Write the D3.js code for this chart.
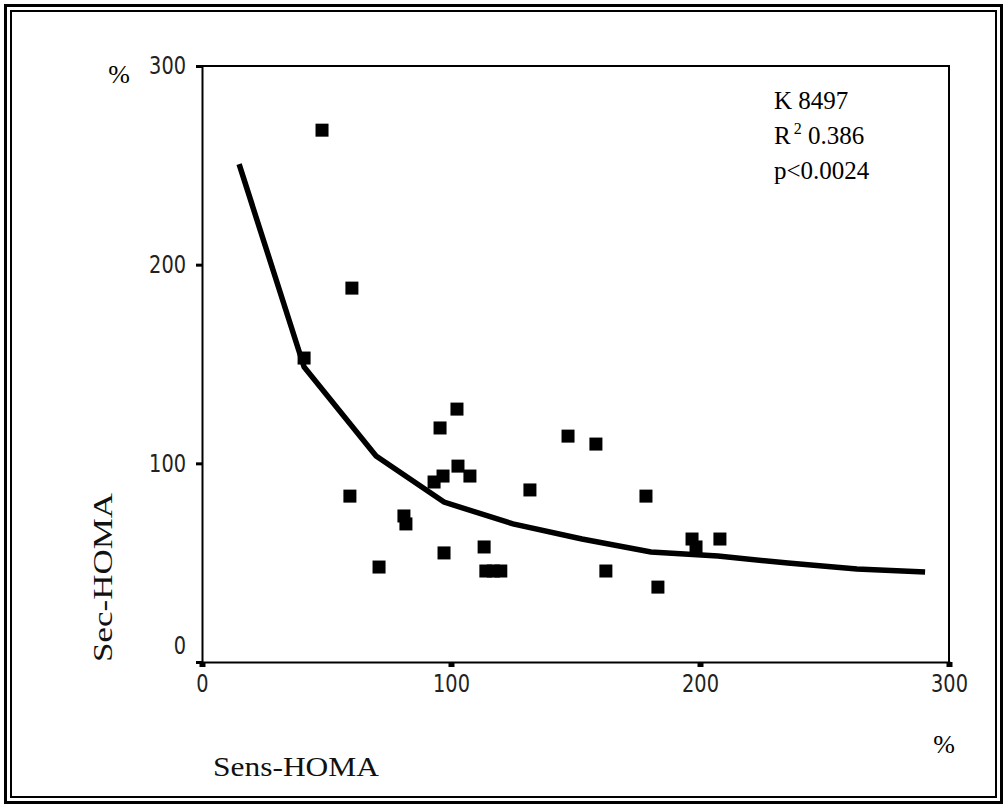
<!DOCTYPE html>
<html><head><meta charset="utf-8">
<script src="https://cdn.jsdelivr.net/npm/d3@7"></script>
<style>body{margin:0;background:#fff}</style>
</head><body>
<svg id="c" width="1008" height="809"></svg>
<script>
const sensX = [48.2, 60.2, 41, 102.4, 95.6, 102.8, 96.8, 93.2, 107.6, 131.7, 59.4, 81.1, 81.9, 97.2, 113.3, 71.1, 114, 117, 120, 147, 158.2, 178.3, 196.8, 198.4, 208, 162.2, 183.1];
const secY  = [267.7, 188.2, 153, 127.3, 117.8, 98.6, 93.6, 90.6, 93.6, 86.6, 83.5, 73.5, 69.5, 54.9, 57.9, 47.8, 45.8, 45.8, 45.8, 113.7, 109.7, 83.5, 61.9, 57.9, 61.9, 45.8, 37.7];
const fitX = [14.9, 41, 69.9, 97.2, 124.9, 152.6, 180.3, 207.2, 235.3, 263, 290.4];
const fitY = [250.6, 148.5, 103.7, 80.5, 69.5, 61.9, 55.4, 53.3, 49.8, 46.8, 45.3];
const xTicks = [0, 100, 200, 300];
const yTicks = [0, 100, 200, 300];
const statLines = ["K 8497", "R", "p<0.0024"];

const svg = d3.select("#c");
// double frame
svg.append("rect").attr("x",5.5).attr("y",5.5).attr("width",996).attr("height",797)
  .attr("fill","none").attr("stroke","#000").attr("stroke-width",3);
svg.append("rect").attr("x",11).attr("y",11).attr("width",985).attr("height",786)
  .attr("fill","none").attr("stroke","#000").attr("stroke-width",2);

const x = d3.scaleLinear().domain([0,300]).range([202,949]);
const y = d3.scaleLinear().domain([0,300]).range([662,66]);

const tickFont = "'DejaVu Sans',sans-serif";

// plot box top/right
svg.append("path").attr("d",`M${x(0)},${y(300)}H${x(300)}V${y(0)}`)
  .attr("fill","none").attr("stroke","#000").attr("stroke-width",2);

function styleTicks(sel){
  sel.attr("font-family",tickFont).attr("font-size",24).attr("fill","#222")
    .attr("textLength", function(){ return 12.3 * this.textContent.length; })
    .attr("lengthAdjust","spacingAndGlyphs");
}

const gx = svg.append("g").attr("transform",`translate(0,${y(0)})`)
  .call(d3.axisBottom(x).tickValues(xTicks).tickSize(5).tickPadding(8).tickFormat(d3.format("d")));
gx.select(".domain").attr("stroke-width",2);
gx.selectAll(".tick line").attr("stroke-width",6);
styleTicks(gx.selectAll(".tick text"));

const gy = svg.append("g").attr("transform",`translate(${x(0)},0)`)
  .call(d3.axisLeft(y).tickValues(yTicks).tickSize(6).tickPadding(10).tickFormat(d3.format("d")));
gy.select(".domain").attr("stroke-width",2);
gy.selectAll(".tick line").attr("stroke-width",3);
styleTicks(gy.selectAll(".tick text"));
gy.selectAll(".tick text").attr("dy", d => d === 0 ? "-0.35em" : "0.32em");

// fit curve
svg.append("path").datum(fitX.map((v,i)=>[v,fitY[i]]))
  .attr("d", d3.line().x(d=>x(d[0])).y(d=>y(d[1])))
  .attr("fill","none").attr("stroke","#000").attr("stroke-width",5.5).attr("stroke-linejoin","miter");

// points
const s = 13;
svg.append("g").selectAll("rect").data(sensX.map((v,i)=>[v,secY[i]])).join("rect")
  .attr("x",d=>x(d[0])-s/2).attr("y",d=>y(d[1])-s/2).attr("width",s).attr("height",s).attr("fill","#000");

const serif = "'Liberation Serif','Times New Roman',serif";
// stats
svg.append("text").attr("x",774).attr("y",109).attr("font-family",serif).attr("font-size",25).text(statLines[0]);
const r = svg.append("text").attr("x",774).attr("y",144).attr("font-family",serif).attr("font-size",25);
r.append("tspan").text(statLines[1]);
r.append("tspan").attr("font-size",16).attr("dy",-10).attr("dx",3).text("2");
r.append("tspan").attr("dy",10).text(" 0.386");
svg.append("text").attr("x",774).attr("y",179).attr("font-family",serif).attr("font-size",25).text(statLines[2]);

// percent labels
svg.append("text").attr("x",119).attr("y",83).attr("text-anchor","middle").attr("font-family",serif).attr("font-size",26).text("%");
svg.append("text").attr("x",944).attr("y",753).attr("text-anchor","middle").attr("font-family",serif).attr("font-size",26).text("%");

// axis titles
svg.append("text").attr("x",213).attr("y",776).attr("font-family",serif).attr("font-size",28)
  .attr("textLength",166).attr("lengthAdjust","spacingAndGlyphs").attr("fill","#111").text("Sens-HOMA");
svg.append("text").attr("transform","translate(112,662) rotate(-90)").attr("font-family",serif).attr("font-size",28)
  .attr("textLength",169).attr("lengthAdjust","spacingAndGlyphs").attr("fill","#111").text("Sec-HOMA");
</script>
</body></html>
